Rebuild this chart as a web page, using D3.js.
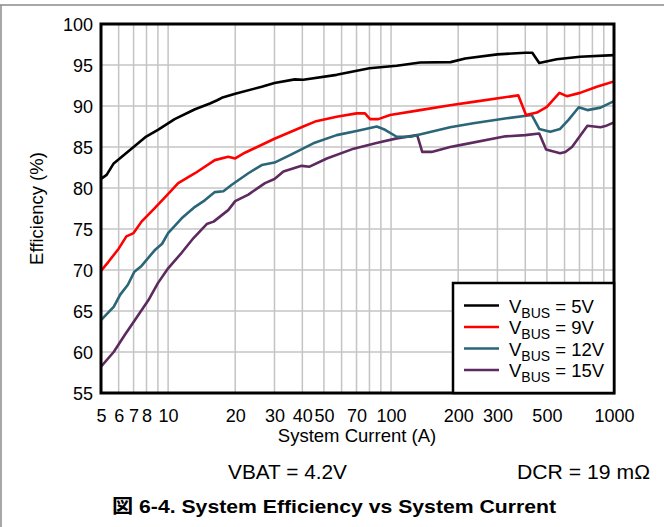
<!DOCTYPE html>
<html>
<head>
<meta charset="utf-8">
<script src="https://cdn.jsdelivr.net/npm/d3@7"></script>
<style>
  html, body { margin: 0; padding: 0; background: #fff; }
  svg { display: block; }
  text { font-family: "Liberation Sans", Arial, "Noto Sans CJK JP", sans-serif; fill: #000; }
</style>
</head>
<body>
<svg id="chart" width="664" height="527"></svg>
<script>
// ---------- data ----------
const xTickValues = [5, 6, 7, 8, 10, 20, 30, 40, 50, 70, 100, 200, 300, 500, 1000];
const xTickLabels = ["5", "6", "7", "8", "10", "20", "30", "40", "50", "70", "100", "200", "300", "500", "1000"];
const xGridValues = [5, 6, 7, 8, 9, 10, 20, 30, 40, 50, 60, 70, 80, 90, 100, 200, 300, 400, 500, 600, 700, 800, 900, 1000];
const yTickValues = [55, 60, 65, 70, 75, 80, 85, 90, 95, 100];

const seriesNames = ["5V", "9V", "12V", "15V"];
const seriesColors = ["#000000", "#ff0000", "#2b6678", "#5d2a5f"];

const current5V = [5, 5.3, 5.7, 7.0, 7.9, 9.0, 10.7, 13.2, 15.4, 16.6, 17.4, 20, 26.3, 30, 37, 40.4, 57, 80, 106, 135, 185, 215, 300, 400, 430, 462, 553, 704, 1000];
const eff5V     = [81.1, 81.6, 83.0, 85.0, 86.2, 87.1, 88.4, 89.6, 90.3, 90.7, 91.0, 91.5, 92.35, 92.8, 93.25, 93.2, 93.8, 94.6, 94.9, 95.3, 95.35, 95.8, 96.3, 96.5, 96.5, 95.25, 95.7, 96.0, 96.2];

const current9V = [5, 5.4, 6.0, 6.5, 7.0, 7.6, 8.6, 9.7, 11.1, 13.2, 16.2, 18.6, 20, 22.1, 30, 40.4, 45.6, 57, 70, 76.4, 80.5, 87.7, 99, 135, 184, 234, 372, 403, 451, 500, 569, 614, 704, 837, 1000];
const eff9V     = [69.9, 71.0, 72.6, 74.1, 74.5, 75.9, 77.4, 78.9, 80.6, 81.8, 83.4, 83.8, 83.6, 84.3, 86.0, 87.5, 88.1, 88.7, 89.1, 89.1, 88.4, 88.4, 88.9, 89.5, 90.1, 90.5, 91.3, 88.9, 89.2, 89.9, 91.6, 91.2, 91.6, 92.35, 93.0];

const current12V = [5, 5.7, 6.1, 6.6, 7.06, 7.6, 8.7, 9.4, 10, 11.5, 13.2, 14.6, 16.2, 17.7, 19.3, 22.9, 26.3, 30, 35.2, 44.8, 57, 70, 86.3, 94, 106, 122, 184, 234, 330, 428, 462, 518, 573, 625, 695, 760, 870, 1000];
const eff12V     = [63.9, 65.5, 67.0, 68.2, 69.8, 70.5, 72.4, 73.2, 74.5, 76.3, 77.7, 78.5, 79.5, 79.6, 80.4, 81.8, 82.8, 83.1, 84.0, 85.45, 86.45, 86.95, 87.5, 87.1, 86.25, 86.25, 87.4, 87.9, 88.5, 88.9, 87.2, 86.85, 87.2, 88.3, 89.85, 89.5, 89.8, 90.6];

const current15V = [5, 5.7, 6.4, 7.1, 8.15, 9.0, 10, 11.5, 13, 14.9, 16, 18.6, 20, 22.9, 27.2, 30, 32.9, 39.7, 43.1, 51.5, 68, 86, 106, 131, 138, 152, 184, 201, 326, 400, 462, 496, 573, 605, 648, 760, 870, 915, 1000];
const eff15V     = [58.2, 60.0, 62.1, 63.9, 66.3, 68.4, 70.2, 72.1, 73.9, 75.6, 75.9, 77.3, 78.4, 79.2, 80.6, 81.1, 82.0, 82.7, 82.6, 83.6, 84.8, 85.5, 86.05, 86.45, 84.4, 84.4, 85.0, 85.2, 86.3, 86.45, 86.65, 84.7, 84.25, 84.4, 85.0, 87.6, 87.4, 87.55, 88.0];

const seriesCurrents = [current5V, current9V, current12V, current15V];
const seriesEffs = [eff5V, eff9V, eff12V, eff15V];

// ---------- layout ----------
const svg = d3.select("#chart");
const plot = { left: 101, right: 614, top: 24, bottom: 393 };

const x = d3.scaleLog().domain([5, 1000]).range([plot.left, plot.right]);
const y = d3.scaleLinear().domain([55, 100]).range([plot.bottom, plot.top]);

// outer frame lines
svg.append("line").attr("x1", 0).attr("x2", 664).attr("y1", 5).attr("y2", 5)
  .attr("stroke", "#8a8a8a").attr("stroke-width", 1.5);
svg.append("line").attr("x1", 1).attr("x2", 1).attr("y1", 5).attr("y2", 527)
  .attr("stroke", "#8a8a8a").attr("stroke-width", 1.5);

// grid
const grid = svg.append("g");
grid.selectAll("line.v").data(xGridValues).join("line")
  .attr("x1", d => x(d)).attr("x2", d => x(d))
  .attr("y1", plot.top).attr("y2", plot.bottom)
  .attr("stroke", "#c4c4c4").attr("stroke-width", 1.5);
grid.selectAll("line.h").data(yTickValues).join("line")
  .attr("x1", plot.left).attr("x2", plot.right)
  .attr("y1", d => y(d)).attr("y2", d => y(d))
  .attr("stroke", "#c4c4c4").attr("stroke-width", 1.5);

// clip
svg.append("clipPath").attr("id", "clip").append("rect")
  .attr("x", plot.left).attr("y", plot.top)
  .attr("width", plot.right - plot.left).attr("height", plot.bottom - plot.top);

const line = d3.line().x(d => x(d[0])).y(d => y(d[1]));
const curves = svg.append("g").attr("clip-path", "url(#clip)");
for (let i = seriesNames.length - 1; i >= 0; i--) {
  const pts = seriesCurrents[i].map((c, k) => [c, seriesEffs[i][k]]);
  curves.append("path").datum(pts)
    .attr("d", line)
    .attr("fill", "none")
    .attr("stroke", seriesColors[i])
    .attr("stroke-width", 2.6)
    .attr("stroke-linejoin", "round")
    .attr("stroke-linecap", "round");
}

// axes
const xAxis = d3.axisBottom(x).tickValues(xTickValues)
  .tickFormat((d, i) => xTickLabels[i]).tickSize(0).tickPadding(0);
const gx = svg.append("g").attr("transform", `translate(0,${plot.bottom})`).call(xAxis);
gx.select(".domain").remove();
gx.selectAll("text").attr("y", 29).attr("dy", 0)
  .style("font-size", "18px").style("font-family", '"Liberation Sans", Arial, sans-serif').attr("fill", "#000");

const yAxis = d3.axisLeft(y).tickValues(yTickValues).tickFormat(d3.format("d")).tickSize(0).tickPadding(0);
const gy = svg.append("g").attr("transform", `translate(${plot.left},0)`).call(yAxis);
gy.select(".domain").remove();
gy.selectAll("text").attr("x", -8).attr("dy", "0.36em")
  .style("font-size", "18px").style("font-family", '"Liberation Sans", Arial, sans-serif').attr("fill", "#000");

// plot border
svg.append("rect")
  .attr("x", plot.left).attr("y", plot.top)
  .attr("width", plot.right - plot.left).attr("height", plot.bottom - plot.top)
  .attr("fill", "none").attr("stroke", "#000").attr("stroke-width", 3);

// axis titles
svg.append("text").attr("x", 357).attr("y", 442).attr("text-anchor", "middle")
  .style("font-size", "18.5px").text("System Current (A)");
svg.append("text").attr("transform", "translate(43,208.5) rotate(-90)").attr("text-anchor", "middle")
  .style("font-size", "18.5px").text("Efficiency (%)");

// legend
const lg = svg.append("g");
lg.append("rect").attr("x", 453).attr("y", 283).attr("width", 161).attr("height", 110)
  .attr("fill", "#fff").attr("stroke", "#000").attr("stroke-width", 2.5);
const rowY = [305.5, 327, 348.5, 370];
seriesNames.forEach((name, i) => {
  lg.append("line").attr("x1", 464).attr("x2", 499).attr("y1", rowY[i]).attr("y2", rowY[i])
    .attr("stroke", seriesColors[i]).attr("stroke-width", 2.6);
  const t = lg.append("text").attr("x", 509).attr("y", rowY[i] + 7).style("font-size", "18.5px");
  t.append("tspan").text("V");
  t.append("tspan").attr("dy", 5).style("font-size", "14px").text("BUS");
  t.append("tspan").attr("dy", -5).text(" = " + name);
});

// condition notes
svg.append("text").attr("x", 228).attr("y", 479).style("font-size", "21px")
  .attr("textLength", 119).attr("lengthAdjust", "spacingAndGlyphs").text("VBAT = 4.2V");
svg.append("text").attr("x", 517).attr("y", 479).style("font-size", "21px")
  .attr("textLength", 133).attr("lengthAdjust", "spacingAndGlyphs").text("DCR = 19 mΩ");

// caption
svg.append("text").attr("x", 112).attr("y", 513)
  .style("font-size", "19px").style("font-weight", "bold")
  .style("font-family", '"Liberation Sans", Arial, "Noto Sans CJK JP", sans-serif')
  .attr("textLength", 444).attr("lengthAdjust", "spacingAndGlyphs")
  .text("図 6-4. System Efficiency vs System Current");
</script>
</body>
</html>
